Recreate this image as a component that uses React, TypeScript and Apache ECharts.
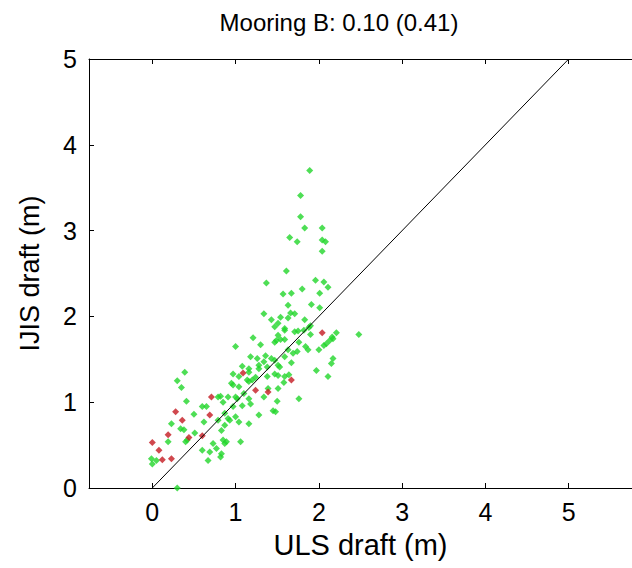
import React, { useEffect, useRef } from "react";
import * as echarts from "echarts";

const titleText = "Mooring B: 0.10 (0.41)";
const xName = "ULS draft (m)";
const yName = "IJIS draft (m)";
const xTickValues = [0, 1, 2, 3, 4, 5];
const yTickValues = [0, 1, 2, 3, 4, 5];
const diagonal = [
  [0, 0],
  [5, 5],
];

const greenPoints = [
  [1.89, 3.7], [1.78, 3.41], [1.78, 3.16], [1.83, 3.03], [2.04, 3.03], [1.65, 2.92], [1.74, 2.87],
  [2.04, 2.89], [2.08, 2.87], [2.04, 2.76], [1.61, 2.53], [1.37, 2.39], [1.96, 2.42], [2.06, 2.4],
  [2.11, 2.34], [2.01, 2.27], [1.57, 2.26], [1.67, 2.27], [1.8, 2.32],
  [1.63, 2.13], [1.91, 2.14], [2.01, 2.1], [1.34, 2.03], [1.66, 2.04], [1.71, 2.03], [1.54, 1.99],
  [1.63, 1.98], [1.83, 1.96], [1.43, 1.96],
  [1.51, 1.92], [1.9, 1.89], [1.47, 1.88], [1.59, 1.86], [1.88, 1.87], [1.59, 1.84], [1.75, 1.83],
  [1.71, 1.82], [1.82, 1.84], [1.9, 1.79], [2.21, 1.81], [2.48, 1.79], [1.51, 1.78],
  [2.16, 1.76], [1.21, 1.75], [2.17, 1.74], [1.54, 1.73], [1.59, 1.73], [1.49, 1.72], [2.13, 1.72],
  [1.47, 1.7], [1.76, 1.7], [2.09, 1.68], [1.3, 1.67], [2.06, 1.66], [1.84, 1.65], [1.0, 1.65],
  [1.87, 1.61], [2.0, 1.61], [1.63, 1.61], [1.74, 1.59], [1.69, 1.57],
  [1.36, 1.54], [1.59, 1.53], [1.18, 1.53], [1.26, 1.51], [1.43, 1.51], [1.47, 1.49], [2.17, 1.51],
  [1.34, 1.47], [1.67, 1.46], [2.15, 1.45], [1.28, 1.43], [1.51, 1.43], [1.08, 1.42], [1.38, 1.41],
  [1.53, 1.41],
  [1.16, 1.39], [1.28, 1.39], [1.97, 1.37], [0.39, 1.35], [1.16, 1.35], [1.47, 1.33], [0.97, 1.33],
  [1.51, 1.31], [1.04, 1.3], [1.59, 1.3], [1.64, 1.32], [2.11, 1.3], [1.24, 1.29], [1.38, 1.3],
  [1.14, 1.26], [1.2, 1.26], [0.3, 1.25], [1.16, 1.24], [1.58, 1.23], [0.95, 1.22],
  [0.97, 1.2], [1.04, 1.18], [0.35, 1.17], [1.39, 1.16], [1.51, 1.16], [1.1, 1.1], [0.82, 1.07],
  [0.91, 1.06], [1.0, 1.06], [0.79, 1.06], [1.34, 1.06], [1.16, 1.04], [1.02, 1.04], [1.76, 1.04],
  [0.41, 1.01], [1.5, 1.01], [0.85, 1.0],
  [1.18, 0.98], [1.08, 0.96], [0.97, 0.95], [0.6, 0.95], [0.65, 0.95], [1.45, 0.9], [1.48, 0.89],
  [0.87, 0.87], [0.5, 0.86], [1.28, 0.85], [1.0, 0.83], [0.91, 0.81],
  [0.79, 0.79], [0.93, 0.79], [1.04, 0.77], [0.62, 0.77], [0.23, 0.75], [1.16, 0.75], [0.87, 0.73],
  [0.34, 0.69], [0.38, 0.68], [0.83, 0.67], [0.51, 0.64],
  [0.42, 0.56], [0.85, 0.56], [0.4, 0.54], [0.19, 0.54], [0.89, 0.54], [1.06, 0.54], [0.73, 0.52],
  [0.87, 0.52], [0.77, 0.46], [0.6, 0.44], [0.69, 0.42], [0.83, 0.4], [0.82, 0.36], [-0.01, 0.34],
  [0.05, 0.32], [0.67, 0.32], [0.0, 0.28], [0.3, 0.0],
];

const redPoints = [
  [0.0, 0.53], [0.08, 0.44], [0.12, 0.33], [0.23, 0.34], [0.19, 0.62], [0.28, 0.89], [0.36, 0.79],
  [0.44, 0.59], [0.6, 0.61], [0.69, 0.85], [0.71, 1.06], [1.09, 1.34], [1.24, 1.14], [1.39, 1.12],
  [1.67, 1.26], [2.04, 1.81],
];

const FONT = "'Liberation Sans', Arial, sans-serif";

export default function App() {
  const ref = useRef<HTMLDivElement>(null);

  useEffect(() => {
    if (!ref.current) return;
    const chart = echarts.init(ref.current, null, { renderer: "svg" });
    const axisCommon = {
      type: "value" as const,
      min: -0.76,
      max: 5.76,
      splitLine: { show: false },
      axisLine: { onZero: false, lineStyle: { color: "#000", width: 1 } },
      axisTick: {
        inside: true,
        length: 5,
        customValues: xTickValues,
        lineStyle: { color: "#000", width: 1 },
      },
    };
    chart.setOption({
      animation: false,
      backgroundColor: "#fff",
      textStyle: { fontFamily: FONT },
      graphic: [
        {
          type: "text",
          x: 339,
          y: 22,
          style: {
            text: titleText,
            fontFamily: FONT,
            fontSize: 24,
            fill: "#000",
            textAlign: "center",
            textVerticalAlign: "middle",
          },
        },
      ],
      grid: { left: 89, top: 59, width: 558, height: 429, containLabel: false },
      xAxis: [
        {
          ...axisCommon,
          position: "bottom",
          name: xName,
          nameLocation: "middle",
          nameGap: 42,
          nameTextStyle: { fontFamily: FONT, fontSize: 29, color: "#000" },
          axisLabel: {
            customValues: xTickValues,
            fontFamily: FONT,
            fontSize: 25,
            color: "#000",
            margin: 11,
          },
        },
        {
          ...axisCommon,
          position: "top",
          axisLabel: { show: false },
        },
      ],
      yAxis: [
        {
          type: "value",
          min: 0,
          max: 5,
          interval: 1,
          splitLine: { show: false },
          axisLine: { onZero: false, lineStyle: { color: "#000", width: 1 } },
          axisTick: { inside: true, length: 5, lineStyle: { color: "#000", width: 1 } },
          axisLabel: {
            fontFamily: FONT,
            fontSize: 25,
            color: "#000",
            margin: 12,
            customValues: yTickValues,
          },
          name: yName,
          nameLocation: "middle",
          nameGap: 46,
          nameRotate: 90,
          nameTextStyle: { fontFamily: FONT, fontSize: 27, color: "#000" },
        },
      ],
      series: [
        {
          type: "scatter",
          data: greenPoints,
          symbol: "diamond",
          symbolSize: 7,
          itemStyle: { color: "#22d62a" },
          z: 2,
        },
        {
          type: "scatter",
          data: redPoints,
          symbol: "diamond",
          symbolSize: 7,
          itemStyle: { color: "#c41a22" },
          z: 3,
        },
        {
          type: "line",
          data: diagonal,
          showSymbol: false,
          symbol: "none",
          clip: false,
          lineStyle: { color: "#000", width: 1 },
          z: 4,
        },
      ],
    });
    return () => chart.dispose();
  }, []);

  return (
    <div
      ref={ref}
      style={{ position: "fixed", left: 0, top: 0, width: 632, height: 568, background: "#fff" }}
    />
  );
}
